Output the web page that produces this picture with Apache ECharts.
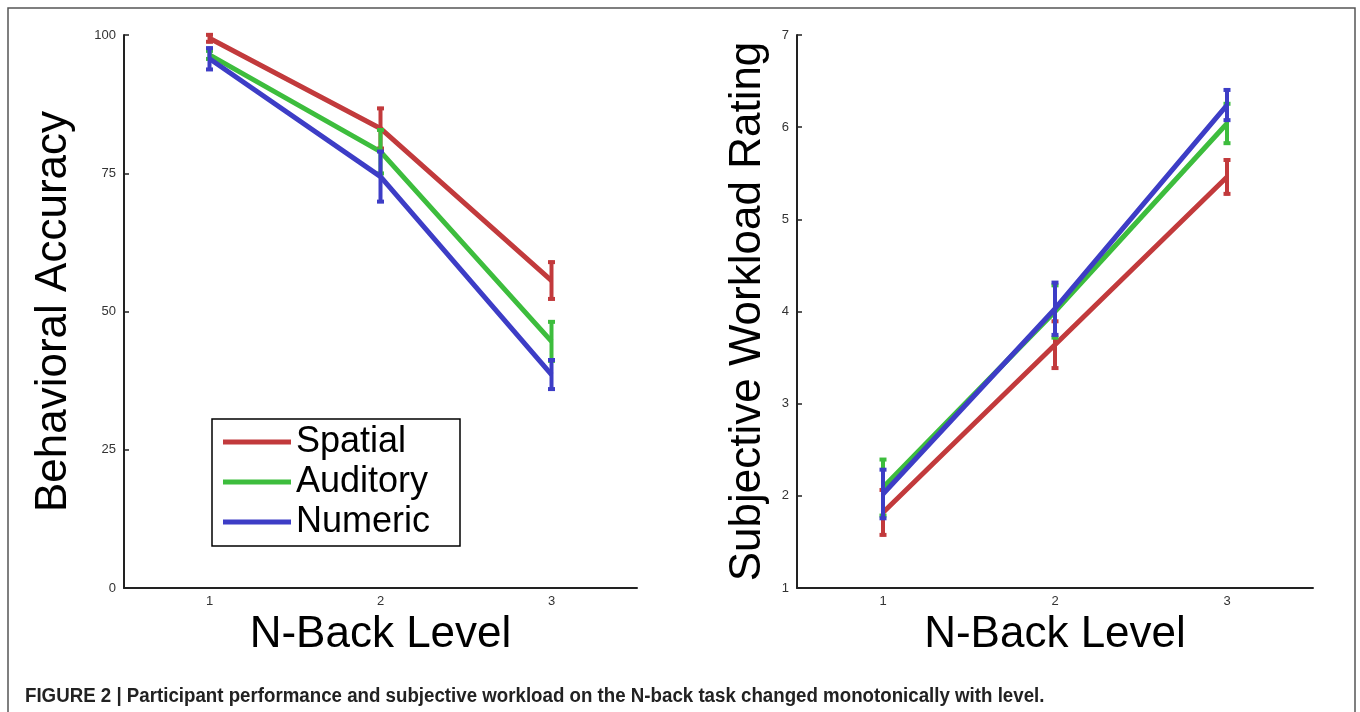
<!DOCTYPE html>
<html>
<head>
<meta charset="utf-8">
<script src="https://cdn.jsdelivr.net/npm/echarts@6/dist/echarts.min.js"></script>
<style>
html,body{margin:0;padding:0;background:#fff;}
#chart{width:1360px;height:712px;}
</style>
</head>
<body>
<div id="chart"></div>
<script>
// ---- data ----
const levels = ['1', '2', '3'];
const seriesNames = ['Spatial', 'Auditory', 'Numeric'];

const spatialAccuracy = [99.4, 83.1, 55.6];
const spatialAccuracyErr = [0.9, 3.9, 3.6];
const auditoryAccuracy = [96.4, 78.9, 44.6];
const auditoryAccuracyErr = [1.0, 4.2, 3.8];
const numericAccuracy = [95.7, 74.4, 38.6];
const numericAccuracyErr = [2.2, 4.8, 2.9];

const spatialWorkload = [1.82, 3.64, 5.46];
const spatialWorkloadErr = [0.26, 0.27, 0.20];
const auditoryWorkload = [2.09, 4.00, 6.04];
const auditoryWorkloadErr = [0.32, 0.30, 0.23];
const numericWorkload = [2.02, 4.03, 6.24];
const numericWorkloadErr = [0.28, 0.30, 0.18];

const accuracyTicks = [0, 100, 25];   // min, max, interval
const workloadTicks = [1, 7, 1];

const caption = 'FIGURE 2 | Participant performance and subjective workload on the N-back task changed monotonically with level.';

// ---- style ----
const colors = ['#C23A3C', '#3DBD3D', '#3D3DC6'];
const tickFont = 'Liberation Sans, Arial, sans-serif';

const chart = echarts.init(document.getElementById('chart'), null, {renderer: 'canvas'});

function errData(means, errs) {
  return means.map((m, i) => [i, m, m - errs[i], m + errs[i]]);
}
function makeErrRender(color) {
  return function (params, api) {
    const c = api.coord([api.value(0), api.value(1)]);
    const lo = api.coord([api.value(0), api.value(2)]);
    const hi = api.coord([api.value(0), api.value(3)]);
    const hw = 3.5;
    const st = {stroke: color, lineWidth: 4, fill: null};
    return {
      type: 'group',
      children: [
        {type: 'line', shape: {x1: c[0], y1: lo[1], x2: c[0], y2: hi[1]}, style: st},
        {type: 'line', shape: {x1: c[0] - hw, y1: hi[1] + 1.5, x2: c[0] + hw, y2: hi[1] + 1.5}, style: st},
        {type: 'line', shape: {x1: c[0] - hw, y1: lo[1] - 1.5, x2: c[0] + hw, y2: lo[1] - 1.5}, style: st}
      ]
    };
  };
}

function xAxisDef(gridIndex) {
  return {
    type: 'category', gridIndex, data: levels, boundaryGap: true,
    axisLine: {lineStyle: {color: '#222', width: 2}},
    axisTick: {inside: true, alignWithLabel: true, length: 5, lineStyle: {color: '#222', width: 1.5}},
    axisLabel: {color: '#333', fontSize: 13, fontFamily: tickFont, margin: 7},
    splitLine: {show: false},
    name: 'N-Back Level', nameLocation: 'middle', nameGap: 14,
    nameTextStyle: {color: '#000', fontSize: 44, fontFamily: tickFont, verticalAlign: 'top'}
  };
}
function yAxisDef(gridIndex, ticks, name, gap) {
  return {
    type: 'value', gridIndex, min: ticks[0], max: ticks[1], interval: ticks[2],
    axisLine: {show: true, lineStyle: {color: '#222', width: 2}},
    axisTick: {show: true, inside: true, length: 5, lineStyle: {color: '#222', width: 1.5}},
    axisLabel: {color: '#333', fontSize: 13, fontFamily: tickFont, margin: 8},
    splitLine: {show: false},
    name, nameLocation: 'middle', nameGap: gap,
    nameTextStyle: {color: '#000', fontSize: 44, fontFamily: tickFont}
  };
}

const leftMeans = [spatialAccuracy, auditoryAccuracy, numericAccuracy];
const leftErrs = [spatialAccuracyErr, auditoryAccuracyErr, numericAccuracyErr];
const rightMeans = [spatialWorkload, auditoryWorkload, numericWorkload];
const rightErrs = [spatialWorkloadErr, auditoryWorkloadErr, numericWorkloadErr];

const series = [];
[[leftMeans, leftErrs, 0], [rightMeans, rightErrs, 1]].forEach(([means, errs, g]) => {
  seriesNames.forEach((nm, k) => {
    series.push({
      type: 'line', name: nm, xAxisIndex: g, yAxisIndex: g,
      data: means[k], symbol: 'none', z: 2 + k,
      lineStyle: {color: colors[k], width: 5},
      itemStyle: {color: colors[k]}
    });
    series.push({
      type: 'custom', name: nm + ' error', xAxisIndex: g, yAxisIndex: g,
      data: errData(means[k], errs[k]), z: 2 + k,
      renderItem: makeErrRender(colors[k]),
      encode: {x: 0, y: [1, 2, 3]}
    });
  });
});

const option = {
  animation: false,
  backgroundColor: '#fff',
  grid: [
    {left: 124, top: 35, width: 513, height: 553},
    {left: 797, top: 35, width: 516, height: 553}
  ],
  xAxis: [xAxisDef(0), xAxisDef(1)],
  yAxis: [
    yAxisDef(0, accuracyTicks, 'Behavioral Accuracy', 48),
    yAxisDef(1, workloadTicks, 'Subjective Workload Rating', 27)
  ],
  legend: {
    data: seriesNames, orient: 'vertical', left: 223, top: 422,
    padding: 0, itemGap: 0, itemWidth: 68, itemHeight: 5, icon: 'rect',
    selectedMode: false,
    textStyle: {color: '#000', fontSize: 36, fontFamily: tickFont, lineHeight: 40}
  },
  graphic: [
    {type: 'rect', shape: {x: 8, y: 8, width: 1347, height: 730},
      style: {fill: null, stroke: '#555', lineWidth: 1.5}, silent: true},
    {type: 'rect', shape: {x: 212, y: 419, width: 248, height: 127},
      style: {fill: null, stroke: '#000', lineWidth: 1.5}, silent: true},
    {type: 'text', x: 25, y: 686, scaleX: 0.935, scaleY: 1,
      style: {text: caption, fill: '#222', font: 'bold 20px "Liberation Sans", Arial, sans-serif'}}
  ],
  series
};
chart.setOption(option);
</script>
</body>
</html>
